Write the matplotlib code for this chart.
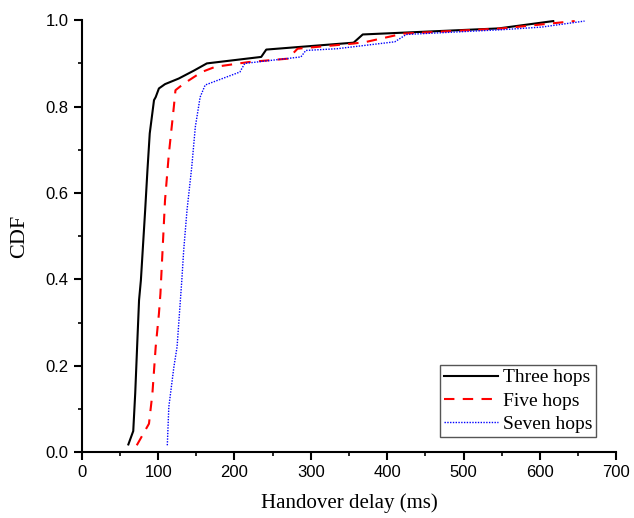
import matplotlib
matplotlib.use("Agg")
import matplotlib.pyplot as plt
from matplotlib.ticker import MultipleLocator, FormatStrFormatter

three_x = [61, 67.4, 70, 73, 75, 77.4, 83, 86, 89, 94.6, 96.8, 101, 109, 127, 146.5, 163.8, 235, 241.6, 356, 368, 546, 617.5]
three_y = [0.018, 0.049, 0.137, 0.267, 0.352, 0.398, 0.56, 0.653, 0.738, 0.815, 0.822, 0.842, 0.852, 0.865, 0.883, 0.90, 0.915, 0.932, 0.948, 0.967, 0.981, 0.998]

five_x = [72, 88, 92.5, 96.8, 101, 103, 109, 114, 120.6, 122.7, 133.5, 157, 174.6, 218, 270, 282.6, 356, 373, 421, 550.5, 645.6]
five_y = [0.016, 0.066, 0.136, 0.244, 0.32, 0.367, 0.583, 0.69, 0.80, 0.838, 0.853, 0.88, 0.892, 0.903, 0.911, 0.934, 0.946, 0.95, 0.969, 0.981, 0.998]

seven_x = [112, 114, 120.6, 124.8, 131, 133.5, 137.8, 144, 148.7, 155, 161.6, 207, 213.5, 287, 293.4, 334.5, 410, 425, 550, 602, 658.5]
seven_y = [0.016, 0.105, 0.197, 0.244, 0.398, 0.468, 0.56, 0.66, 0.753, 0.822, 0.85, 0.88, 0.90, 0.915, 0.93, 0.934, 0.95, 0.967, 0.978, 0.984, 0.998]

labels = ["Three hops", "Five hops", "Seven hops"]

fig = plt.figure(figsize=(6.34, 5.18), dpi=100)
ax = fig.add_axes([0.129, 0.127, 0.843, 0.834])

ax.plot(three_x, three_y, color="black", linestyle="-", linewidth=1.5, label=labels[0])
ax.plot(five_x, five_y, color="red", linestyle=(0, (5, 4)), linewidth=1.5, label=labels[1])
ax.plot(seven_x, seven_y, color="blue", linestyle=(0, (1, 1)), linewidth=1.0, label=labels[2])

ax.set_xlim(0, 700)
ax.set_ylim(0, 1.0)
ax.xaxis.set_major_locator(MultipleLocator(100))
ax.xaxis.set_minor_locator(MultipleLocator(50))
ax.yaxis.set_major_locator(MultipleLocator(0.2))
ax.yaxis.set_minor_locator(MultipleLocator(0.1))
ax.yaxis.set_major_formatter(FormatStrFormatter("%.1f"))

for s in ["top", "right"]:
    ax.spines[s].set_visible(False)
for s in ["left", "bottom"]:
    ax.spines[s].set_linewidth(1.5)

ax.tick_params(which="major", direction="out", length=5.5, width=1.5, labelsize=12, pad=4)
ax.tick_params(which="minor", direction="out", length=3, width=1.2)
for lab in ax.get_xticklabels() + ax.get_yticklabels():
    lab.set_fontfamily("Liberation Sans")

ax.set_xlabel("Handover delay (ms)", fontfamily="Liberation Serif", fontsize=15, labelpad=9)
ax.set_ylabel("CDF", fontfamily="Liberation Serif", fontsize=16, labelpad=12)

leg = ax.legend(loc="lower right", bbox_to_anchor=(0.963, 0.035), prop={"family": "Liberation Serif", "size": 14},
                fancybox=False, edgecolor="#555555", framealpha=1, handlelength=2.8,
                handletextpad=0.25, borderpad=0.2, labelspacing=0.3, borderaxespad=0)
leg.get_frame().set_linewidth(1.0)

fig.savefig("out.png", dpi=100)
